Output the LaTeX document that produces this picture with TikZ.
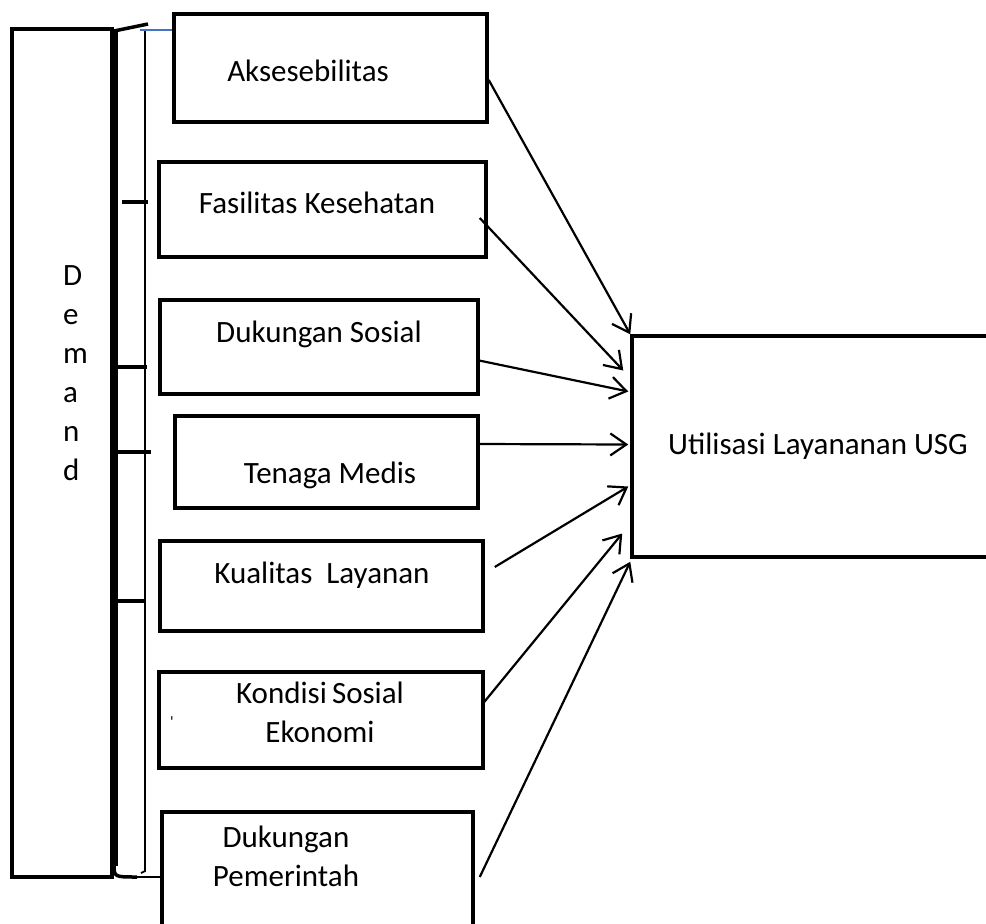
\documentclass[tikz,border=0pt]{standalone}
\usepackage{fontspec}
\setmainfont{Carlito}
\usepackage{tikz}
\usetikzlibrary{positioning, calc, arrows.meta}
\definecolor{officeblue}{RGB}{68,114,196}
\tikzset{
	bigtext/.style={font=\fontsize{31}{39}\selectfont}
}

\begin{document}
\begin{tikzpicture}[x=1pt,y=-1pt]

\tikzset{
    factorbox/.style={
        shape=rectangle,
        draw=black,
        line width=3.5pt,
        inner sep=0pt
    },
    boxtext/.style={bigtext, inner sep=0pt, anchor=base, align=center},
    arrowline/.style={line width=2.2pt, -{Straight Barb[length=16pt,width=22pt]}}
}

\useasboundingbox (0,0) rectangle (986,924);
\clip (0,0) rectangle (986,924);

% left side
\node[factorbox, minimum width=100pt, minimum height=848pt] (dem) at (62,453) {};
\node[bigtext, inner sep=0pt, anchor=base west, align=left] (demtext) at (63,480) {D\\e\\m\\a\\n\\d};

% factor boxes
\node[factorbox, minimum width=313pt, minimum height=108pt] (aks) at (330.5,68) {};
\node[factorbox, minimum width=327pt, minimum height=95pt] (fas) at (322.5,209.5) {};
\node[factorbox, minimum width=318pt, minimum height=94pt] (duk) at (319,347) {};
\node[factorbox, minimum width=303pt, minimum height=92pt] (ten) at (326.5,462) {};
\node[factorbox, minimum width=323pt, minimum height=90pt] (kua) at (321.5,586) {};
\node[factorbox, minimum width=324pt, minimum height=96pt] (kon) at (321,720) {};
\node[factorbox, minimum width=311pt, minimum height=130pt] (pem) at (317.5,877) {};

\node[boxtext] (aksl) at (308,81) {Aksesebilitas};
\node[boxtext] (fasl) at (317,213) {Fasilitas Kesehatan};
\node[boxtext] (dukl) at (319,342) {Dukungan Sosial};
\node[boxtext] (tenl) at (330,483) {Tenaga Medis};
\node[boxtext] (kual) at (322,583) {Kualitas\ \ Layanan};
\node[boxtext] (konl) at (320,742) {Kondisi\,Sosial\\Ekonomi};
\node[font=\fontsize{16}{16}\selectfont, inner sep=0pt] (kondot) at (172,722) {\textquotesingle};
\node[boxtext] (peml) at (286,886) {Dukungan\\Pemerintah};

% right box
\node[factorbox, minimum width=400pt, minimum height=221pt] (usg) at (832,446.5) {};
\node[boxtext] (usgl) at (818,454) {Utilisasi Layananan USG};

% bracket
\draw[line width=7pt] (114,31) -- (114,866);
\draw[line width=3.5pt] (114,864) .. controls (114,877) .. (137,877);
\draw[line width=3.5pt] (114,31) -- (148,24);
\draw[line width=1.8pt] (145,30) -- (145,871) -- (141,873);
\draw[officeblue, line width=2pt] (140,30) -- (aks.west |- 0,30);
\draw[line width=1.8pt] (137,877) -- (pem.west |- 0,877);
\draw[line width=3.5pt] (122,202) -- (148,202);
\draw[line width=3.5pt] (115,367) -- (147,367);
\draw[line width=3.5pt] (114,452) -- (151,452);
\draw[line width=3.5pt] (115,601) -- (145,601);

% arrows
\draw[arrowline] ($(aks.east)+(0,12)$) -- (usg.north west);
\draw[arrowline] ($(fas.east)+(-8,8.5)$) -- ($(usg.west)+(-7,-76)$);
\draw[arrowline] ($(duk.east)+(-3,13)$) -- ($(usg.west)+(-2,-55)$);
\draw[arrowline] ($(ten.east)+(-3,-18)$) -- ($(usg.west)+(-2,-2)$);
\draw[arrowline] ($(kua.east)+(10,-19)$) -- ($(usg.west)+(-2,40)$);
\draw[arrowline] ($(kon.east)+(-3,-15)$) -- ($(usg.west)+(-8,87)$);
\draw[arrowline] ($(pem.east)+(5,0)$) -- ($(usg.south west)+(0,3)$);
\end{tikzpicture}
\end{document}
